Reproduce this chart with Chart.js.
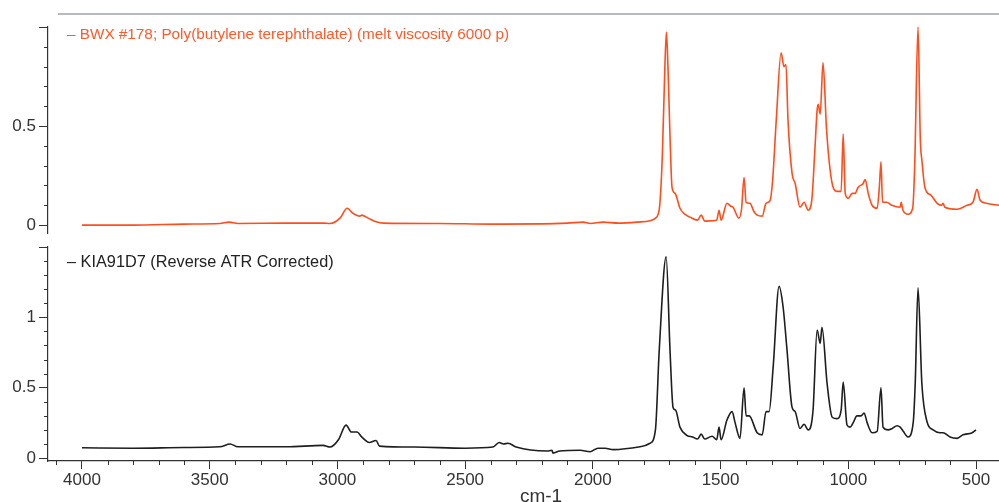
<!DOCTYPE html>
<html>
<head>
<meta charset="utf-8">
<script src="https://cdn.jsdelivr.net/npm/chart.js@4.4.0/dist/chart.umd.min.js"></script>
<style>
  body { margin: 0; background: #fff; }
  #wrap { position: relative; width: 999px; height: 502px; }
  canvas { position: absolute; left: 0; }
  #topChart { top: 0; }
  #bottomChart { top: 240px; }
</style>
</head>
<body>
<div id="wrap">
  <canvas id="topChart" width="999" height="240"></canvas>
  <canvas id="bottomChart" width="999" height="262"></canvas>
</div>
<script>
// series names
const topName = '\u2013 BWX #178; Poly(butylene terephthalate) (melt viscosity 6000 p)';
const bottomName = '\u2013 KIA91D7 (Reverse ATR Corrected)';
const xTitle = 'cm-1';
const xTickValues = [4000, 3500, 3000, 2500, 2000, 1500, 1000, 500];

// top spectrum (orange)
const topWn = [4000, 3800, 3600, 3460, 3424, 3390, 3200, 3056, 3029, 2990, 2962, 2940, 2923, 2912, 2905, 2880, 2845, 2821,
  2600, 2400, 2200, 2100, 2038, 2010, 1960, 1900, 1827, 1776, 1755, 1740, 1728, 1718, 1712, 1706, 1698, 1690, 1678,
  1659, 1640, 1620, 1590, 1576, 1562, 1530, 1515, 1506, 1498, 1475, 1460, 1451, 1428, 1418, 1408, 1400, 1385, 1370,
  1357, 1337, 1322, 1306, 1296, 1282, 1263, 1252, 1244, 1236, 1220, 1208, 1189, 1173, 1157, 1143, 1130, 1122, 1118,
  1110, 1099, 1085, 1066, 1044, 1028, 1020, 1012, 1000, 985, 973, 962, 942, 934, 922, 907, 887, 878, 872, 866, 850,
  830, 797, 793, 786, 766, 748, 740, 727, 718, 712, 700, 676, 652, 635, 629, 622, 574, 535, 512, 496, 484, 460, 410];
const topAbs = [0.0, 0.0, 0.005, 0.008, 0.015, 0.008, 0.01, 0.01, 0.008, 0.035, 0.085, 0.06, 0.048, 0.045, 0.05, 0.035, 0.015, 0.01,
  0.008, 0.005, 0.006, 0.01, 0.015, 0.008, 0.015, 0.01, 0.015, 0.022, 0.035, 0.08, 0.35, 0.8, 0.975, 0.8, 0.45, 0.19, 0.16,
  0.085, 0.055, 0.04, 0.025, 0.05, 0.02, 0.022, 0.025, 0.075, 0.025, 0.11, 0.095, 0.09, 0.035, 0.08, 0.24, 0.115, 0.11, 0.07,
  0.05, 0.045, 0.11, 0.125, 0.23, 0.53, 0.87, 0.80, 0.81, 0.53, 0.26, 0.21, 0.09, 0.115, 0.075, 0.125, 0.4, 0.58, 0.61,
  0.56, 0.82, 0.48, 0.23, 0.17, 0.17, 0.46, 0.16, 0.135, 0.16, 0.16, 0.19, 0.21, 0.23, 0.16, 0.10, 0.085, 0.2, 0.32, 0.115, 0.115,
  0.10, 0.09, 0.115, 0.075, 0.055, 0.085, 0.3, 1.0, 0.43, 0.33, 0.19, 0.15, 0.11, 0.10, 0.11, 0.09, 0.08, 0.10, 0.115, 0.18, 0.125, 0.11, 0.10];

// bottom spectrum (black)
const bottomWn = [4000, 3800, 3600, 3460, 3420, 3390, 3200, 3056, 3029, 2996, 2966, 2945, 2923, 2905, 2875, 2849, 2835,
  2700, 2500, 2391, 2367, 2350, 2332, 2300, 2179, 2160, 2156, 2130, 2050, 2011, 1980, 1952, 1920, 1815, 1776, 1755,
  1740, 1713, 1698, 1686, 1676, 1659, 1631, 1610, 1590, 1576, 1562, 1533, 1515, 1506, 1498, 1475, 1455, 1443, 1424,
  1408, 1400, 1388, 1357, 1337, 1322, 1310, 1294, 1271, 1255, 1240, 1220, 1208, 1189, 1173, 1157, 1138, 1122, 1110,
  1103, 1083, 1063, 1044, 1028, 1020, 1005, 993, 981, 966, 950, 938, 926, 907, 887, 872, 864, 844, 828, 809, 797, 785,
  766, 746, 738, 727, 712, 692, 668, 641, 629, 602, 574, 551, 515, 500];
const bottomAbs = [0.073, 0.07, 0.075, 0.08, 0.10, 0.08, 0.08, 0.09, 0.078, 0.13, 0.234, 0.185, 0.185, 0.15, 0.11, 0.125, 0.085,
  0.078, 0.07, 0.078, 0.11, 0.1, 0.105, 0.078, 0.05, 0.055, 0.035, 0.05, 0.055, 0.045, 0.07, 0.07, 0.06, 0.08, 0.105, 0.2,
  0.77, 1.43, 0.77, 0.36, 0.34, 0.22, 0.16, 0.15, 0.135, 0.17, 0.135, 0.155, 0.13, 0.22, 0.13, 0.27, 0.33, 0.25, 0.14,
  0.50, 0.30, 0.30, 0.18, 0.165, 0.33, 0.33, 0.65, 1.22, 1.07, 0.77, 0.36, 0.33, 0.21, 0.24, 0.2, 0.34, 0.91, 0.815,
  0.93, 0.53, 0.29, 0.28, 0.34, 0.54, 0.235, 0.22, 0.25, 0.30, 0.30, 0.32, 0.25, 0.18, 0.19, 0.50, 0.22, 0.2, 0.21, 0.23, 0.22, 0.19,
  0.15, 0.25, 0.53, 1.21, 0.53, 0.26, 0.2, 0.18, 0.18, 0.15, 0.14, 0.165, 0.18, 0.2];

const FONT = '"Liberation Sans", Arial, sans-serif';
const AXIS = '#333';

// minor ticks, legend text, top line, x title
const decorations = {
  id: 'decorations',
  afterDraw(chart, args, o) {
    const ctx = chart.ctx, area = chart.chartArea;
    ctx.save();
    ctx.strokeStyle = AXIS;
    ctx.lineWidth = 1;
    ctx.beginPath();
    const y = chart.scales.y;
    for (let i = Math.ceil(y.min * 10); i <= Math.floor(y.max * 10 + 0.001); i++) {
      if (i % 5 == 0) continue;
      const py = Math.round(y.getPixelForValue(i / 10)) + 0.5;
      ctx.moveTo(area.left - 4, py);
      ctx.lineTo(area.left, py);
    }
    if (chart.scales.x.options.display) {
      const x = chart.scales.x;
      for (let i = Math.ceil(x.min / 100); i <= Math.floor(x.max / 100); i++) {
        if (i % 5 == 0) continue;
        const px = Math.round(x.getPixelForValue(i * 100)) + 0.5;
        ctx.moveTo(px, area.bottom);
        ctx.lineTo(px, area.bottom + 4);
      }
    }
    ctx.stroke();
    if (o.topLine) {
      ctx.strokeStyle = '#9ea3a8';
      ctx.lineWidth = 1.5;
      ctx.beginPath();
      ctx.moveTo(58, 14);
      ctx.lineTo(999, 14);
      ctx.stroke();
    }
    ctx.fillStyle = o.color;
    ctx.font = o.fontSize + 'px ' + FONT;
    ctx.textBaseline = 'middle';
    ctx.fillText(o.text, 67, o.textY);
    if (o.xTitle) {
      ctx.fillStyle = AXIS;
      ctx.font = '19px ' + FONT;
      ctx.textAlign = 'center';
      ctx.fillText(o.xTitle, 541, 257);
    }
    ctx.restore();
  }
};

function points(wn, abs) {
  return wn.map((w, i) => ({ x: w, y: abs[i] }));
}

function noPad(s) {
  s.paddingTop = 0;
  s.paddingBottom = 0;
  s.paddingLeft = 0;
  s.paddingRight = 0;
}

function makeChart(id, wn, abs, color, yMin, yMax, pad, showX, deco) {
  return new Chart(document.getElementById(id), {
    type: 'line',
    data: {
      datasets: [{
        data: points(wn, abs),
        borderColor: color,
        borderWidth: 1.6,
        pointRadius: 0,
        cubicInterpolationMode: 'monotone',
        clip: false,
      }]
    },
    options: {
      responsive: false,
      animation: false,
      layout: { padding: pad },
      scales: {
        x: {
          type: 'linear',
          display: showX,
          reverse: true,
          min: 410,
          max: 4133,
          afterBuildTicks: s => { s.ticks = xTickValues.map(v => ({ value: v })); },
          afterFit: s => { if (showX) s.height = 41; noPad(s); },
          border: { color: AXIS, width: 1.2 },
          grid: { drawOnChartArea: false, color: AXIS, tickLength: 8 },
          ticks: { padding: 1, color: AXIS, font: { family: FONT, size: 17 }, maxRotation: 0, autoSkip: false,
            callback: v => String(v) }
        },
        y: {
          min: yMin,
          max: yMax,
          afterFit: s => { s.width = 48; noPad(s); },
          border: { color: AXIS, width: 1.2 },
          grid: { drawOnChartArea: false, color: AXIS, tickLength: 9 },
          ticks: {
            stepSize: 0.5,
            includeBounds: false,
            padding: 3,
            color: AXIS,
            font: { family: FONT, size: 17 },
            callback: v => (v >= yMax - 1e-6 ? '' : String(v))
          }
        }
      },
      plugins: {
        legend: { display: false },
        tooltip: { enabled: false },
        decorations: deco
      }
    },
    plugins: [decorations]
  });
}

makeChart('topChart', topWn, topAbs, '#ff4d1c', -0.04, 1.0,
  { left: 0, right: 0, top: 27, bottom: 7 }, false,
  { text: topName, color: '#ff5a2a', textY: 35, fontSize: 15.3, topLine: true });

makeChart('bottomChart', bottomWn, bottomAbs, '#1e1e1e', -0.021, 1.5,
  { left: 0, right: 0, top: 7, bottom: 0 }, true,
  { text: bottomName, color: '#222', textY: 23, fontSize: 16.3, xTitle: xTitle });
</script>
</body>
</html>
